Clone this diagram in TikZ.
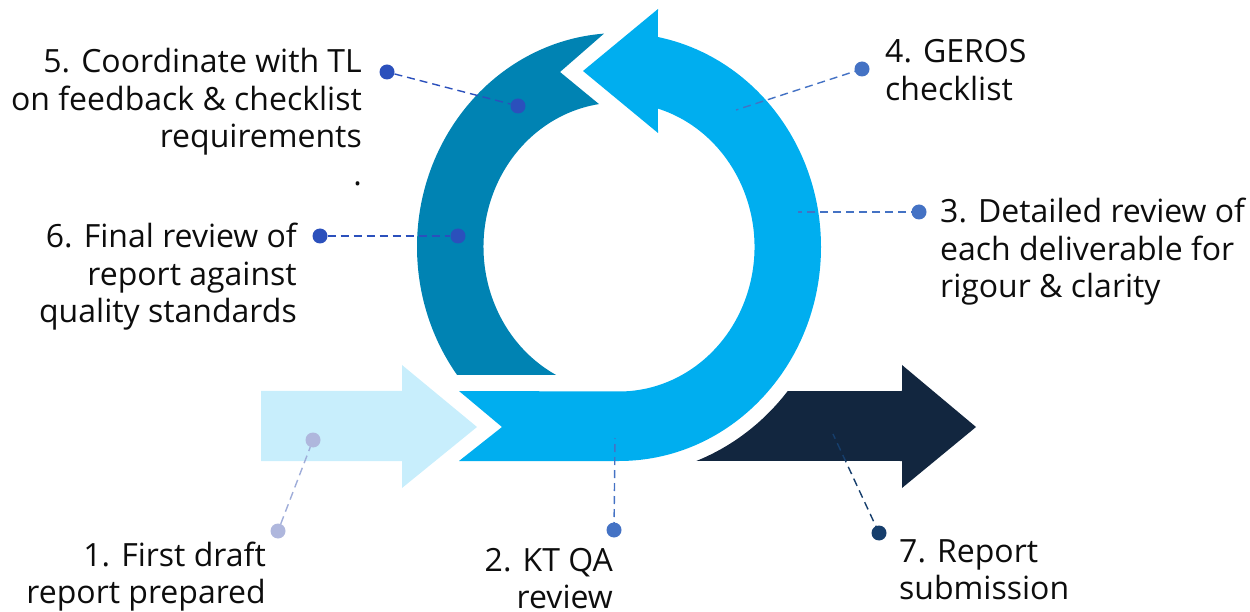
\documentclass[tikz,border=0pt]{standalone}
\usepackage{fontspec}
\setmainfont{Open Sans}
\usetikzlibrary{calc}
\definecolor{cLight}{HTML}{C8EEFC}
\definecolor{cMain}{HTML}{00AEEF}
\definecolor{cTeal}{HTML}{0083B3}
\definecolor{cNavy}{HTML}{12263F}
\definecolor{cRoyal}{HTML}{2B50BC}
\definecolor{cMid}{HTML}{4472C4}
\definecolor{cPale}{HTML}{AFB7DD}
\definecolor{cDeep}{HTML}{163E6C}
\tikzset{
  lbl/.style={inner sep=0pt, font=\fontsize{32}{37.5}\selectfont, text=black!95},
  lblr/.style={lbl, align=right, anchor=base east},
  lbll/.style={lbl, align=left, anchor=base west},
  dot/.style={circle, fill=#1, inner sep=0pt, minimum size=15pt},
  lead/.style={draw=#1, line width=1.4pt, dash pattern=on 8pt off 5pt},
}
\begin{document}
\begin{tikzpicture}[x=1pt,y=1pt]
\useasboundingbox (0,0) rectangle (1250,611);
\coordinate (C) at (619,364);
% 1. light arrow
\fill[cLight] (261,150) -- (261,220) -- (402,220) -- (402,246) -- (477,184) -- (402,123) -- (402,150) -- cycle;
% dark teal ring (steps 5-6)
\fill[cTeal] ($(C)+(94.26:202 and 214)$) arc[start angle=94.26, end angle=216.7, x radius=202, y radius=214]
  -- ($(C)+(242.35:135.5 and 144.5)$) arc[start angle=242.35, end angle=98.49, x radius=135.5, y radius=144.5]
  -- (560,539) -- cycle;
% main blue arrow (steps 2-4)
\fill[cMain] (459,220) -- (502,184) -- (459,150) -- (619,150)
  arc[start angle=-90, end angle=78.9, x radius=202, y radius=214]
  -- (658,602) -- (583,540) -- (658,478)
  -- ($(C)+(73.3:135.5 and 144.5)$) arc[start angle=73.3, end angle=-90, x radius=135.5, y radius=144.5]
  -- cycle;
% 7. navy arrow
\fill[cNavy] ($(C)+(-69.1:217 and 229)$) arc[start angle=-69.1, end angle=-38.97, x radius=217, y radius=229]
  -- (902,220) -- (902,246) -- (976,184) -- (902,123) -- (902,150) -- cycle;

% leader points
\node[dot=cPale] (d1a) at (278,80) {};
\node[dot=cPale] (d1b) at (313,171) {};
\node[dot=cMid] (d2) at (614,81) {};
\coordinate (e2) at (615,173);
\node[dot=cMid] (d3) at (919,399) {};
\coordinate (e3) at (798,399);
\node[dot=cMid] (d4) at (862,542) {};
\coordinate (e4) at (736,501);
\node[dot=cRoyal] (d5a) at (387,539) {};
\node[dot=cRoyal] (d5b) at (518,505) {};
\node[dot=cRoyal] (d6a) at (320,375) {};
\node[dot=cRoyal] (d6b) at (458,375) {};
\node[dot=cDeep] (d7) at (879,78) {};
\coordinate (e7) at (833,177);

\draw[lead=cPale!85!cMid] (d1a) -- (d1b);
\draw[lead=cMid] (d2.center) -- (e2);
\draw[lead=cMid] (d3.center) -- (e3);
\draw[lead=cMid] (d4.center) -- (e4);
\draw[lead=cRoyal] (d5a) -- (d5b);
\draw[lead=cRoyal] (d6a) -- (d6b);
\draw[lead=cDeep] (d7.center) -- (e7);

% labels (base anchor = baseline of last line)
\node[lblr] (t1) at (266,7.5) {1. First draft\\report prepared};
\node[lblr] (t2) at (613,2.5) {2. KT QA\\review};
\node[lbll] (t3) at (940,313) {3. Detailed review of\\each deliverable for\\rigour \& clarity};
\node[lbll] (t4) at (885,510.5) {4. GEROS\\checklist};
\node[lblr] (t5) at (362,425.5) {5. Coordinate with TL\\on feedback \& checklist\\requirements\\.};
\node[lblr] (t6) at (297,288) {6. Final review of\\report against\\quality standards};
\node[lbll] (t7) at (899,11.5) {7. Report\\submission};
\end{tikzpicture}
\end{document}
